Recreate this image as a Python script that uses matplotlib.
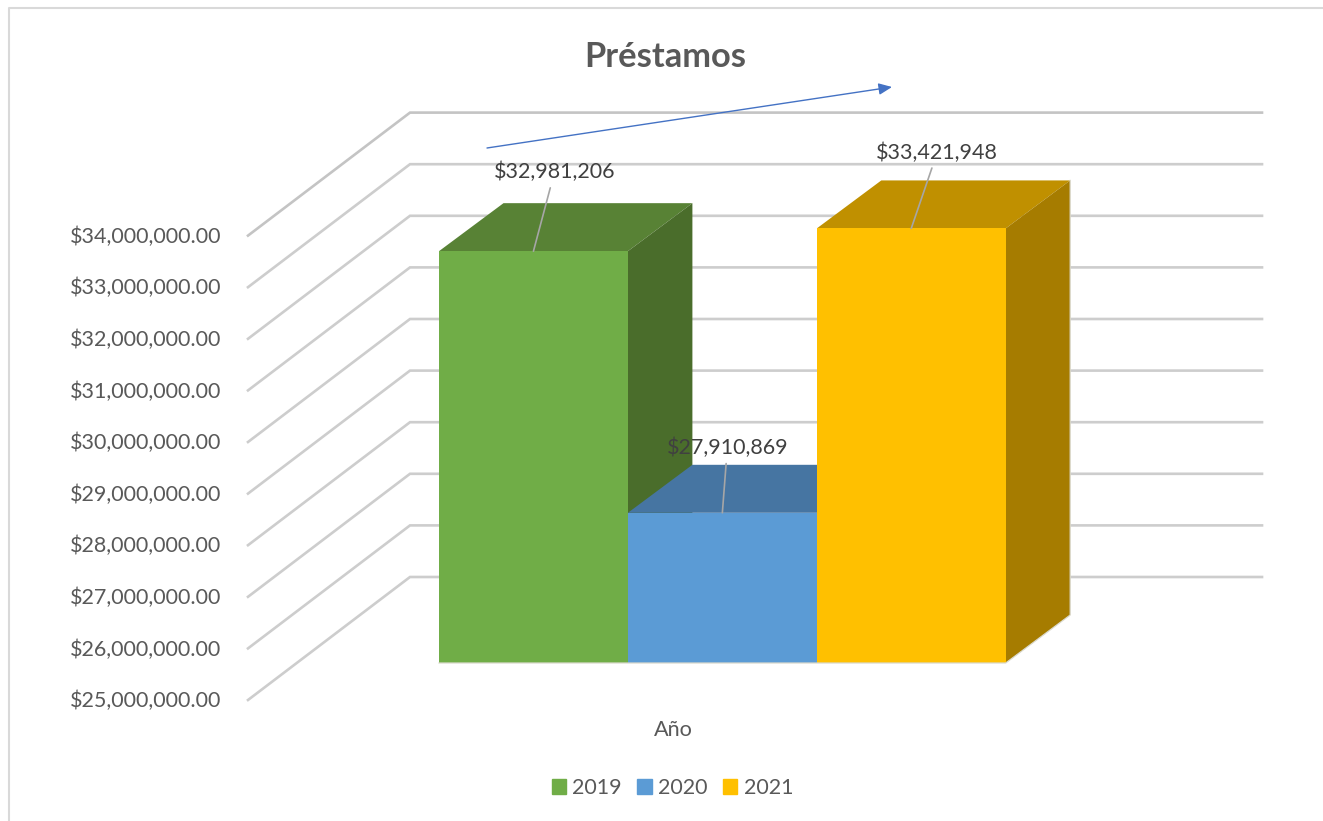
import matplotlib
matplotlib.use("Agg")
import matplotlib.pyplot as plt
from matplotlib.lines import Line2D
from matplotlib.patches import Patch, Polygon

plt.rcParams["font.family"] = ["Lato", "DejaVu Sans"]

YEARS = ["2019", "2020", "2021"]
VALUES = [32981206, 27910869, 33421948]
LABELS = ["$32,981,206", "$27,910,869", "$33,421,948"]
TICKS = [25000000, 26000000, 27000000, 28000000, 29000000,
         30000000, 31000000, 32000000, 33000000, 34000000]
FRONT_COLORS = ["#70AD47", "#5B9BD5", "#FFC000"]
TOP_COLORS = ["#588235", "#4675A2", "#C09000"]
SIDE_COLORS = ["#4A6D2B", "#3F6A94", "#A67C00"]

W, H = 1323, 821
CAT_PX = 188.9      # width of one category
MIL_PX = 51.6       # height of one million
LEFT_PX = 439       # left edge of the first bar
BASE_PX = 663       # baseline of the bars (25M)
BASE_VALUE = 25000000


def dx(px):
    return px / CAT_PX


def dy(px):
    return px / MIL_PX * 1e6


def cat_x(px):
    return (px - LEFT_PX) / CAT_PX


def main():
    fig = plt.figure(figsize=(W / 100, H / 100), dpi=100)
    ax = fig.add_axes([0, 0, 1, 1])
    ax.set_xlim(cat_x(0), cat_x(W))
    ax.set_ylim(BASE_VALUE - dy(H - BASE_PX), BASE_VALUE + dy(BASE_PX))
    ax.axis("off")

    # chart frame, only left and top are visible in the screenshot
    frame = Line2D([8.5 / W, 8.5 / W, 1], [0, 1 - 8.5 / H, 1 - 8.5 / H],
                   transform=fig.transFigure, color="#D9D9D9", lw=1.5)
    fig.add_artist(frame)

    # floor and side walls drawn as grid lines
    for tick in TICKS:
        y_front = tick - dy(37)
        y_back = tick + dy(86)
        line_color = "#C4C4C4" if tick == TICKS[-1] else "#CDCDCD"
        ax.plot([cat_x(248), cat_x(410), cat_x(1262)], [y_front, y_back, y_back],
                color=line_color, lw=1.9, solid_joinstyle="miter", zorder=1)
        ax.text(cat_x(221.5), y_front - dy(1), f"${tick:,.2f}", ha="right", va="center",
                fontsize=15.5, color="#595959")

    depth_x, depth_y = dx(64.5), dy(48)
    for i, value in enumerate(VALUES):
        left, right = i, i + 1
        top = Polygon([(left, value), (right, value), (right + depth_x, value + depth_y),
                       (left + depth_x, value + depth_y)], fc=TOP_COLORS[i], ec="none", zorder=2 + i)
        side = Polygon([(right, BASE_VALUE), (right, value), (right + depth_x, value + depth_y),
                        (right + depth_x, BASE_VALUE + depth_y)], fc=SIDE_COLORS[i], ec="none", zorder=2 + i)
        front = Polygon([(left, BASE_VALUE), (right, BASE_VALUE), (right, value), (left, value)],
                        fc=FRONT_COLORS[i], ec="none", zorder=2 + i)
        ax.add_patch(top)
        ax.add_patch(side)
        ax.add_patch(front)

    # faint outline along the outer edges of the bar block
    last = len(VALUES)
    ax.plot([0, last, last + depth_x, last + depth_x],
            [BASE_VALUE, BASE_VALUE, BASE_VALUE + depth_y, VALUES[-1] + depth_y],
            color="#DAD9CC", lw=0.9, zorder=6)

    label_offsets = [(21, 79), (5, 65), (26, 76)]
    for i, (value, label) in enumerate(zip(VALUES, LABELS)):
        ax.annotate(label, xy=(i + 0.5, value), xytext=label_offsets[i],
                    textcoords="offset pixels", ha="center", va="center",
                    fontsize=15.5, color="#404040", zorder=10,
                    arrowprops=dict(arrowstyle="-", color="#A6A6A6", lw=1.2,
                                    shrinkA=2, shrinkB=0))

    # hand drawn arrow on top of the chart
    ax.annotate("", xy=(cat_x(892), BASE_VALUE + dy(BASE_PX - 87)),
                xytext=(cat_x(487), BASE_VALUE + dy(BASE_PX - 148)),
                arrowprops=dict(arrowstyle="-|>,head_length=0.8,head_width=0.35", color="#4472C4",
                                lw=1, shrinkA=0, shrinkB=0), zorder=11)

    fig.text(665 / W, 1 - 57 / H, "Préstamos", ha="center", va="center",
             fontsize=24.8, fontweight="bold", color="#595959")
    fig.text(673.5 / W, 1 - 730 / H, "Año", ha="center", va="center",
             fontsize=15.6, color="#595959")

    handles = [Patch(color=c, label=y) for c, y in zip(FRONT_COLORS, YEARS)]
    fig.legend(handles=handles, loc="center", bbox_to_anchor=(672.5 / W, 1 - 788 / H),
               ncols=3, frameon=False, fontsize=15.4, handlelength=0.67, handleheight=0.67,
               handletextpad=0.3, columnspacing=0.72, labelcolor="#595959")

    fig.savefig("out.png", dpi=100)
    plt.close(fig)


if __name__ == "__main__":
    main()
